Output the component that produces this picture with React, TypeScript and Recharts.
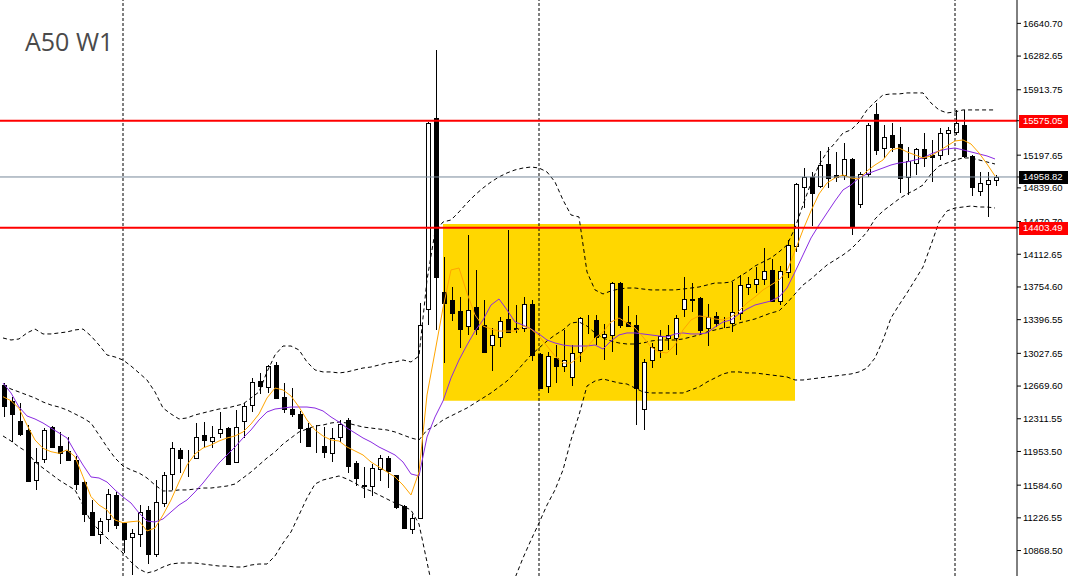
import React from "react";
import {
  Bar,
  ComposedChart,
  Line,
  ReferenceArea,
  ReferenceLine,
  XAxis,
  YAxis,
} from "recharts";

// weekly candles, oldest first
const opens = [
  12681, 12506, 12287, 12189, 11637, 11867, 12218, 12013, 11959, 11860,
  11619, 11291, 11046, 11210, 11473, 11170, 11013, 11046, 11313, 10827,
  11393, 11703, 11970, 11879, 11879, 12134, 12071, 12152, 12207, 11835,
  12290, 12459, 12725, 12656, 12900, 12553, 12418, 12364, 12207, 12016,
  12013, 11942, 12116, 12296, 11825, 11583, 11573, 11761, 11884, 11697,
  11360, 11106, 11225, 13509, 15605, 13703, 13612, 13492, 13331, 13532,
  13335, 13119, 13210, 13404, 13302, 13302, 13568, 13021, 12666, 12977,
  12889, 12772, 13037, 13401, 13393, 13212, 13229, 13795, 13371, 13338,
  12413, 12955, 13059, 13196, 13201, 13510, 13628, 13634, 13302, 13437,
  13382, 13357, 13470, 13758, 13784, 13839, 13941, 13604, 13922, 14198,
  14846, 14956, 14860, 15098, 14977, 14981, 15161, 14663, 14992, 15649,
  15273, 15419, 15320, 14956, 15115, 15262, 15197, 15197, 15437, 15448,
  15528, 15189, 14809, 14879, 14923,
];
const highs = [
  12707, 12546, 12480, 12243, 11995, 12207, 12232, 12163, 12116, 11904,
  11641, 11422, 11221, 11542, 11513, 11174, 11104, 11367, 11360, 11641,
  11732, 12054, 11991, 11970, 12268, 12273, 12232, 12389, 12225, 12408,
  12487, 12761, 12809, 12900, 12930, 12706, 12645, 12400, 12262, 12243,
  12225, 12210, 12303, 12322, 11854, 11787, 11816, 11910, 11899, 11697,
  11367, 11274, 13583, 15560, 16354, 14080, 13751, 13642, 14324, 13941,
  13612, 13302, 13429, 14379, 13557, 13642, 13612, 13028, 13040, 13119,
  13284, 13119, 13429, 13448, 13448, 13349, 13812, 13812, 13546, 13448,
  12961, 13141, 13278, 13338, 13448, 13861, 13801, 13648, 13568, 13484,
  13429, 13812, 13886, 13867, 13970, 14178, 14058, 13984, 14269, 14893,
  15054, 15017, 15244, 15291, 15236, 15328, 15164, 15017, 15547, 15766,
  15528, 15553, 15510, 15291, 15273, 15437, 15364, 15499, 15510, 15693,
  15693, 15200, 15017, 15017, 14981,
];
const lows = [
  12327, 12061, 12123, 11623, 11535, 11831, 11999, 11816, 11853, 11532,
  11181, 11039, 10940, 11068, 11101, 10838, 10601, 10911, 10721, 10794,
  11349, 11531, 11718, 11677, 11868, 11988, 11988, 12098, 11805, 11824,
  12098, 12389, 12583, 12597, 12525, 12378, 12328, 12043, 12006, 11940,
  11885, 11833, 12060, 11723, 11573, 11444, 11461, 11630, 11548, 11323,
  11106, 11050, 11215, 13333, 13284, 12919, 13385, 13083, 13229, 13229,
  13040, 12838, 13101, 13254, 13254, 13265, 12947, 12645, 12590, 12703,
  12827, 12670, 12936, 13240, 13119, 12950, 13046, 13300, 13311, 12243,
  12189, 12864, 12982, 13065, 13010, 13423, 13484, 13229, 13112, 13320,
  13302, 13265, 13393, 13667, 13692, 13776, 13593, 13557, 13850, 14141,
  14616, 14422, 14835, 14835, 14907, 14926, 14324, 14616, 14962, 15200,
  15164, 15233, 14787, 14762, 14981, 15072, 14907, 15145, 15200, 15419,
  15164, 14751, 14751, 14524, 14860,
];
const closes = [
  12455, 12360, 12145, 11630, 11834, 12189, 12006, 11933, 11860, 11597,
  11272, 11042, 11188, 11484, 11152, 10999, 11057, 11287, 10827, 11396,
  11696, 11988, 11885, 11885, 12115, 12079, 12109, 12196, 11816, 12218,
  12451, 12711, 12674, 12889, 12536, 12415, 12364, 12214, 12017, 12010,
  11944, 12098, 12259, 11799, 11667, 11579, 11772, 11884, 11742, 11341,
  11113, 11225, 13340, 15555, 13867, 13582, 13473, 13291, 13503, 13291,
  13046, 13229, 13382, 13265, 13298, 13565, 13010, 12652, 13000, 12889,
  12950, 13032, 13415, 13399, 13204, 13245, 13795, 13338, 13322, 12648,
  12933, 13092, 13218, 13229, 13418, 13628, 13612, 13284, 13431, 13363,
  13379, 13481, 13773, 13784, 13839, 13927, 13604, 13926, 14214, 14879,
  14962, 14780, 15087, 14945, 14962, 15159, 14415, 14988, 15528, 15255,
  15394, 15291, 14951, 15131, 15262, 15164, 15175, 15437, 15474, 15553,
  15189, 14846, 14896, 14926, 14958.82,
];

// indicator lines
const maFast = [
  12553, 12509, 12426, 12243, 12079, 11988, 11951, 11933, 11970, 11896,
  11677, 11458, 11367, 11312, 11203, 11173, 11184, 11192, 11083, 11115,
  11258, 11422, 11619, 11805, 11926, 11991, 12024, 12068, 12101, 12123,
  12167, 12254, 12364, 12539, 12648, 12627, 12561, 12440, 12298, 12189,
  12123, 12079, 12068, 12002, 11959, 11915, 11838, 11783, 11729, 11674,
  11586, 11477, 11729, 12572, 13043, 13524, 13941, 13962, 13689, 13448,
  13327, 13294, 13272, 13272, 13272, 13327, 13294, 13218, 13108, 12999,
  12922, 12922, 12988, 13097, 13196, 13262, 13371, 13415, 13360, 13305,
  13207, 13097, 13043, 13032, 13119, 13284, 13393, 13437, 13426, 13404,
  13393, 13426, 13492, 13579, 13645, 13722, 13776, 13831, 13930, 14149,
  14379, 14587, 14773, 14893, 14948, 14981, 14948, 14937, 15025, 15090,
  15145, 15255, 15276, 15233, 15200, 15167, 15189, 15244, 15298, 15353,
  15364, 15320, 15222, 15101, 14970,
];
const maSlow = [
  12703, 12594, 12440, 12342, 12309, 12265, 12210, 12156, 12101, 11948,
  11805, 11674, 11663, 11619, 11532, 11455, 11389, 11280, 11192, 11181,
  11214, 11291, 11367, 11422, 11510, 11608, 11718, 11827, 11915, 12002,
  12101, 12189, 12298, 12386, 12418, 12429, 12440, 12440, 12440, 12429,
  12397, 12331, 12276, 12210, 12156, 12101, 12057, 12002, 11959, 11915,
  11838, 11707, 11685, 12112, 12331, 12506, 12758, 12955, 13119, 13272,
  13393, 13557, 13623, 13503, 13371, 13338, 13294, 13240, 13174, 13141,
  13119, 13108, 13108, 13108, 13119, 13075, 13163, 13229, 13251, 13251,
  13240, 13229, 13218, 13207, 13240, 13251, 13240, 13240, 13251, 13316,
  13371, 13393, 13459, 13513, 13557, 13579, 13601, 13645, 13743, 13919,
  14105, 14291, 14433, 14565, 14696, 14817, 14871, 14948, 14992, 15025,
  15057, 15090, 15112, 15123, 15145, 15167, 15211, 15244, 15265, 15276,
  15255, 15233, 15211, 15189, 15156,
];
const bbUpper = [
  13196, 13174, 13185, 13251, 13294, 13240, 13240, 13251, 13262, 13284,
  13294, 13218, 13119, 13010, 12988, 12955, 12889, 12813, 12736, 12605,
  12429, 12364, 12309, 12320, 12353, 12375, 12397, 12418, 12429, 12451,
  12473, 12539, 12605, 12824, 13010, 13108, 13108, 13065, 12933, 12846,
  12824, 12824, 12813, 12824, 12846, 12867, 12878, 12900, 12922, 12933,
  12955, 12933, 12999, 13831, 14357, 14466, 14488, 14576, 14674, 14762,
  14838, 14904, 14959, 15003, 15036, 15057, 15068, 15057, 15014, 14904,
  14707, 14543, 14521, 13919, 13722, 13678, 13711, 13732, 13743, 13743,
  13732, 13722, 13722, 13722, 13722, 13732, 13743, 13754, 13776, 13798,
  13798, 13809, 13864, 13919, 13984, 14028, 14072, 14138, 14214, 14400,
  14652, 14893, 15090, 15233, 15331, 15441, 15474, 15561, 15693, 15780,
  15857, 15868, 15868, 15879, 15879, 15879, 15769, 15693, 15660, 15671,
  15693, 15693, 15693, 15693, 15693,
];
const bbMiddle = [
  12681, 12637, 12605, 12572, 12539, 12495, 12462, 12440, 12408, 12364,
  12320, 12265, 12134, 12002, 11882, 11794, 11751, 11718, 11663, 11586,
  11521, 11521, 11532, 11532, 11542, 11553, 11553, 11564, 11575, 11597,
  11663, 11729, 11805, 11882, 11948, 12035, 12101, 12167, 12199, 12232,
  12243, 12265, 12276, 12265, 12243, 12221, 12210, 12199, 12189, 12167,
  12134, 12101, 12079, 12189, 12232, 12298, 12342, 12386, 12429, 12484,
  12539, 12594, 12659, 12725, 12813, 12911, 13010, 13086, 13163, 13229,
  13284, 13360, 13371, 13327, 13251, 13196, 13163, 13141, 13130, 13130,
  13141, 13163, 13174, 13174, 13174, 13185, 13207, 13229, 13262, 13284,
  13305, 13316, 13360, 13382, 13404, 13437, 13470, 13492, 13579, 13678,
  13776, 13842, 13919, 13995, 14050, 14105, 14170, 14258, 14357, 14499,
  14587, 14652, 14718, 14773, 14817, 14871, 14992, 15079, 15112, 15145,
  15167, 15167, 15145, 15123, 15101,
];
const bbLower = [
  12123, 12068, 12002, 11948, 11838, 11772, 11707, 11641, 11586, 11532,
  11367, 11181, 11094, 11006, 10918, 10842, 10743, 10666, 10623, 10645,
  10688, 10721, 10732, 10732, 10732, 10721, 10710, 10699, 10699, 10688,
  10688, 10710, 10721, 10721, 10809, 10951, 11072, 11258, 11444, 11597,
  11641, 11663, 11685, 11652, 11608, 11553, 11521, 11477, 11433, 11389,
  11356, 11312, 11159, 10743, 10327, 10053, 9889, 9801, 9758, 9725,
  9714, 9725, 9780, 9999, 10568, 10787, 10984, 11170, 11367, 11532,
  11751, 12079, 12353, 12670, 12725, 12747, 12725, 12703, 12692, 12648,
  12605, 12594, 12594, 12594, 12594, 12594, 12627, 12659, 12714, 12758,
  12802, 12824, 12824, 12813, 12813, 12802, 12791, 12780, 12769, 12736,
  12736, 12747, 12758, 12769, 12780, 12791, 12802, 12824, 12867, 12977,
  13174, 13415, 13557, 13689, 13831, 13973, 14214, 14466, 14587, 14619,
  14630, 14641, 14630, 14630, 14619,
];

const priceTicks = [
  16640.7, 16282.65, 15913.75, 15197.65, 14839.6, 14470.7, 14112.65,
  13754.6, 13396.55, 13027.65, 12669.6, 12311.55, 11953.5, 11584.6, 11226.55,
  10868.5,
];
const redLevels = [15575.05, 14403.49];
const lastPrice = 14958.82;
const separators = [15, 67, 119];
const zoneWeeks = [55, 99];
const zonePrices = [12509, 14444];

const data = opens.map((open, i) => ({
  i,
  open,
  high: highs[i],
  low: lows[i],
  close: closes[i],
  fast: maFast[i],
  slow: maSlow[i],
  upper: bbUpper[i],
  middle: bbMiddle[i],
  lower: bbLower[i],
}));

const FONT = "'Liberation Sans', Arial, sans-serif";

function Candle(props: any) {
  const { x, y, width, height, payload } = props;
  if (x == null || y == null) return null;
  const cx = Math.round(x + width / 2);
  const top = Math.min(y, y + height);
  const h = Math.abs(height);
  const span = payload.high - payload.low || 1;
  const toY = (v: number) => top + ((payload.high - v) / span) * h;
  const bTop = Math.round(toY(Math.max(payload.open, payload.close)));
  const bBot = Math.round(toY(Math.min(payload.open, payload.close)));
  const up = payload.close >= payload.open;
  return (
    <g shapeRendering="crispEdges">
      <line x1={cx + 0.5} x2={cx + 0.5} y1={Math.round(top)} y2={Math.round(top + h)} stroke="#000" />
      <rect
        x={cx - 1.5}
        y={bTop + 0.5}
        width={4}
        height={Math.max(bBot - bTop, 0)}
        fill={up ? "#fff" : "#000"}
        stroke="#000"
      />
    </g>
  );
}

// price labels on the right axis; level tags come last so they sit on top
function AxisTick(props: any) {
  const { x, y, payload } = props;
  const v = payload.value;
  const tagBg = v === lastPrice ? "#000" : redLevels.includes(v) ? "#ff0000" : null;
  if (tagBg) {
    return (
      <g>
        <rect x={x - 4} y={Math.round(y) - 6} width={49} height={13} fill={tagBg} />
        <text x={x} y={y} dy="0.36em" fill="#fff" fontSize={9.5} fontFamily={FONT}>
          {v.toFixed(2)}
        </text>
      </g>
    );
  }
  return (
    <text x={x} y={y} dy="0.36em" fill="#000" fontSize={9.5} fontFamily={FONT}>
      {v.toFixed(2)}
    </text>
  );
}

export default function App() {
  return (
    <div style={{ position: "relative", width: 1068, height: 576, background: "#fff" }}>
      <style>{"body{margin:0}"}</style>
      <ComposedChart
        width={1068}
        height={576}
        data={data}
        margin={{ top: 0, right: 0, bottom: 0, left: 0 }}
      >
        <XAxis dataKey="i" type="number" domain={[-0.375, 126.75]} hide allowDataOverflow />
        <YAxis
          orientation="right"
          width={51}
          domain={[10589.8, 16896.6]}
          allowDataOverflow
          ticks={[...priceTicks, lastPrice, ...redLevels]}
          interval={0}
          tickSize={4}
          tickMargin={2}
          stroke="#000"
          tick={<AxisTick />}
        />
        <ReferenceArea
          x1={zoneWeeks[0]}
          x2={zoneWeeks[1]}
          y1={zonePrices[0]}
          y2={zonePrices[1]}
          fill="#ffd700"
          fillOpacity={1}
          stroke="none"
        />
        {separators.map((s) => (
          <ReferenceLine key={s} x={s} stroke="#000" strokeDasharray="3 2" />
        ))}
        <Line dataKey="upper" stroke="#000" strokeDasharray="4 3" dot={false} activeDot={false} isAnimationActive={false} />
        <Line dataKey="middle" stroke="#000" strokeDasharray="4 3" dot={false} activeDot={false} isAnimationActive={false} />
        <Line dataKey="lower" stroke="#000" strokeDasharray="4 3" dot={false} activeDot={false} isAnimationActive={false} />
        <Line dataKey="slow" stroke="#8a2be2" dot={false} activeDot={false} isAnimationActive={false} />
        <Line dataKey="fast" stroke="#ffa500" dot={false} activeDot={false} isAnimationActive={false} />
        <Bar
          dataKey={(d: any) => [d.low, d.high]}
          barSize={5}
          shape={<Candle />}
          activeBar={false}
          isAnimationActive={false}
        />
        <ReferenceLine y={lastPrice} stroke="#778899" />
        {redLevels.map((lvl) => (
          <ReferenceLine key={lvl} y={lvl} stroke="#ff0000" strokeWidth={2} />
        ))}
      </ComposedChart>
      <svg
        width={200}
        height={80}
        style={{ position: "absolute", left: 0, top: 0, pointerEvents: "none" }}
      >
        <text x={25} y={51} fontSize={25} fill="#4a4a4a" fontFamily="'Open Sans', sans-serif">
          A50 W1
        </text>
      </svg>
    </div>
  );
}
